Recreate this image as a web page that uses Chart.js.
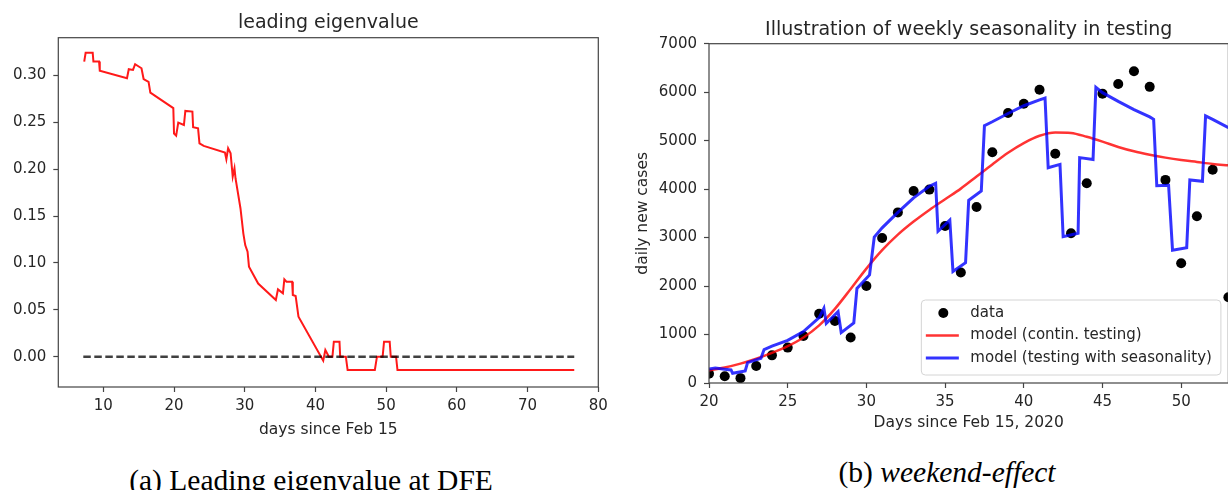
<!DOCTYPE html>
<html lang="en">
<head>
<meta charset="UTF-8" />
<meta name="viewport" content="width=device-width, initial-scale=1.0" />
<title>Leading eigenvalue / weekend effect</title>
<script src="https://cdn.jsdelivr.net/npm/chart.js@4.4.1/dist/chart.umd.min.js"></script>
<style>
  html, body { margin: 0; padding: 0; background: #fff; overflow: hidden; }
  #page { position: relative; width: 1228px; height: 490px; overflow: hidden; }
  canvas { position: absolute; top: 0; }
  #eigChart { left: 0; }
  #caseChart { left: 620px; }
  .caption {
    position: absolute; transform: translateX(-50%); white-space: nowrap;
    font-family: "Liberation Serif", serif; font-size: 29.5px; line-height: 30px; color: #000;
  }
</style>
</head>
<body>
<div id="page">
  <canvas id="eigChart" width="614" height="439"></canvas>
  <canvas id="caseChart" width="620" height="432"></canvas>
  <div class="caption" style="left:311px; top:465px;">(a) Leading eigenvalue at DFE</div>
  <div class="caption" style="left:947px; top:457px;">(b) <i>weekend-effect</i></div>
</div>
<script>
// (a) leading eigenvalue at the disease free equilibrium
const eigDays = [7.3, 7.5, 8.5, 8.6, 9.4, 9.5, 13.35, 13.6, 14.2, 14.5, 15.4, 15.7, 16.4, 16.65,
  19.9, 20.0, 20.3, 20.6, 21.4, 21.6, 22.6, 22.7, 23.4, 23.6, 24.2, 27.2, 27.4, 27.65, 28.0,
  28.3, 28.55, 28.7, 29.4, 29.8, 30.07, 30.4, 30.6, 31.9, 34.4, 34.7, 35.4, 35.6, 35.9, 36.7,
  36.8, 37.2, 37.6, 41.1, 41.4, 41.9, 42.4, 42.6, 43.4, 43.5, 44.3, 44.55, 48.4, 48.7, 49.5,
  49.7, 50.5, 50.65, 51.4, 51.6, 76.6];
const eigValues = [0.3146, 0.324, 0.324, 0.3146, 0.3146, 0.305, 0.297, 0.3065, 0.3057, 0.3118,
  0.3075, 0.296, 0.293, 0.2815, 0.265, 0.238, 0.2357, 0.2496, 0.247, 0.262, 0.2613, 0.2446,
  0.2435, 0.2275, 0.2247, 0.2176, 0.2105, 0.2222, 0.2168, 0.192, 0.201, 0.190, 0.158, 0.1315,
  0.119, 0.112, 0.096, 0.078, 0.0604, 0.0718, 0.0675, 0.0825, 0.080, 0.080, 0.0658, 0.0647,
  0.0427, -0.0043, 0.0071, 0.0, 0.0, 0.016, 0.016, 0.0, 0.0, -0.0142, -0.0142, 0.0, 0.0,
  0.016, 0.016, 0.0, 0.0, -0.0142, -0.0142];
const zeroDays = [7.17, 76.6];
const zeroLevel = [0, 0];
const eigXTicks = [10, 20, 30, 40, 50, 60, 70, 80];
const eigYTicks = [0, 0.05, 0.10, 0.15, 0.20, 0.25, 0.30];

// (b) daily new cases, continuous testing vs weekly testing pattern
const caseDays = [20, 21, 22, 23, 24, 25, 26, 27, 28, 29, 30, 31, 32, 33, 34, 35, 36, 37, 38,
  39, 40, 41, 42, 43, 44, 45, 46, 47, 48, 49, 50, 51, 52, 53];
const caseCounts = [190, 140, 100, 350, 570, 730, 970, 1430, 1280, 940, 2000, 2990, 3520, 3960,
  3990, 3240, 2280, 3630, 4760, 5570, 5760, 6050, 4730, 3090, 4120, 5970, 6170, 6430, 6110,
  4190, 2470, 3440, 4400, 1770];
const contCases = [260, 320, 400, 500, 620, 760, 940, 1190, 1530, 1940, 2360, 2740, 3060, 3330,
  3570, 3790, 4010, 4260, 4510, 4750, 4950, 5100, 5170, 5160, 5080, 4980, 4870, 4780, 4710,
  4650, 4600, 4560, 4520, 4490];
const seasDays = [20.0, 20.4, 21.0, 21.4, 21.5, 22.3, 22.45, 23.3, 23.5, 24, 25, 26, 27, 27.3,
  27.45, 28.2, 28.4, 29.2, 29.4, 30.2, 30.5, 31, 32, 33, 34, 34.4, 34.55, 35.3, 35.5, 36.3,
  36.5, 37.3, 37.5, 38, 39, 40, 41, 41.35, 41.55, 42.3, 42.5, 43.45, 43.55, 44.4, 44.58, 45,
  46, 47, 48, 48.25, 48.45, 49.2, 49.45, 50.35, 50.55, 51.35, 51.55, 52, 53];
const seasCases = [290, 310, 285, 270, 200, 250, 420, 510, 690, 760, 880, 1060, 1350, 1540,
  1230, 1470, 1040, 1240, 1950, 2230, 3010, 3200, 3520, 3820, 4060, 4120, 3130, 3360, 2300,
  2480, 3770, 3960, 5310, 5390, 5560, 5720, 5840, 5880, 4440, 4510, 3020, 3090, 4650, 4610,
  6100, 5990, 5810, 5640, 5490, 5440, 4070, 4080, 2740, 2790, 4190, 4160, 5510, 5440, 5270];
const caseXTicks = [20, 25, 30, 35, 40, 45, 50];
const caseYTicks = [0, 1000, 2000, 3000, 4000, 5000, 6000, 7000];

Chart.defaults.font.family = '"DejaVu Sans", sans-serif';
Chart.defaults.font.size = 15;
Chart.defaults.color = '#262626';

const pts = (xs, ys) => xs.map((x, i) => ({ x: x, y: ys[i] }));

// box around the axes, all four sides
const frame = {
  id: 'frame',
  afterDraw(chart) {
    const { ctx, chartArea: a } = chart;
    ctx.save();
    ctx.strokeStyle = '#444';
    ctx.lineWidth = 1.2;
    ctx.strokeRect(a.left, a.top, a.right - a.left, a.bottom - a.top);
    ctx.restore();
  }
};

// title centred over the plotting area
const axesTitle = {
  id: 'axesTitle',
  afterDraw(chart, args, opts) {
    const { ctx, chartArea: a } = chart;
    ctx.save();
    ctx.font = '19px "DejaVu Sans"';
    ctx.fillStyle = '#262626';
    ctx.textAlign = 'center';
    ctx.textBaseline = 'alphabetic';
    ctx.fillText(opts.text, (a.left + a.right) / 2, a.top - opts.gap);
    ctx.restore();
  }
};

// legend box in the lower right corner of the axes
const boxLegend = {
  id: 'boxLegend',
  afterDraw(chart, args, opts) {
    if (!opts.show) return;
    const { ctx, chartArea: a } = chart;
    const sets = chart.data.datasets;
    ctx.save();
    ctx.font = '15px "DejaVu Sans"';
    const textW = Math.max(...sets.map(d => ctx.measureText(d.label).width));
    const w = 49 + textW + 9, h = 75, r = 4;
    const x0 = a.right - 7.5 - w, y0 = a.bottom - 8 - h;
    ctx.beginPath();
    ctx.moveTo(x0 + r, y0);
    ctx.arcTo(x0 + w, y0, x0 + w, y0 + h, r);
    ctx.arcTo(x0 + w, y0 + h, x0, y0 + h, r);
    ctx.arcTo(x0, y0 + h, x0, y0, r);
    ctx.arcTo(x0, y0, x0 + w, y0, r);
    ctx.closePath();
    ctx.fillStyle = 'rgba(255,255,255,0.8)';
    ctx.fill();
    ctx.strokeStyle = '#d4d4d4';
    ctx.lineWidth = 1;
    ctx.stroke();
    sets.forEach((d, i) => {
      const y = y0 + 13 + i * 22.5;
      if (d.showLine === false) {
        ctx.beginPath();
        ctx.arc(x0 + 22, y, d.pointRadius, 0, Math.PI * 2);
        ctx.fillStyle = d.pointBackgroundColor;
        ctx.fill();
      } else {
        ctx.beginPath();
        ctx.moveTo(x0 + 4.5, y);
        ctx.lineTo(x0 + 37.5, y);
        ctx.strokeStyle = d.borderColor;
        ctx.lineWidth = d.borderWidth;
        ctx.stroke();
      }
      ctx.fillStyle = '#262626';
      ctx.textAlign = 'left';
      ctx.textBaseline = 'middle';
      ctx.fillText(d.label, x0 + 49, y);
    });
    ctx.restore();
  }
};

function axisOpts(min, max, tickList, fmt, boxSize, vertical, title, titlePad) {
  return {
    type: 'linear',
    min: min,
    max: max,
    afterBuildTicks: s => { s.ticks = tickList.map(v => ({ value: v })); },
    afterFit: s => { if (vertical) s.width = boxSize; else s.height = boxSize; },
    grid: { drawOnChartArea: false, drawTicks: true, tickLength: 5, tickWidth: 1.2, tickColor: '#444' },
    border: { display: false },
    ticks: { padding: vertical ? 7 : 5, autoSkip: false, maxRotation: 0, callback: fmt },
    title: {
      display: !!title,
      text: title,
      font: { size: 15.5 },
      padding: { top: titlePad, bottom: 0 }
    }
  };
}

new Chart(document.getElementById('eigChart'), {
  type: 'line',
  data: {
    datasets: [
      { label: 'zero', data: pts(zeroDays, zeroLevel), borderColor: 'rgba(0,0,0,0.75)',
        borderWidth: 2.5, borderDash: [7.5, 3.5], pointRadius: 0, order: 1 },
      { label: 'leading eigenvalue', data: pts(eigDays, eigValues), borderColor: 'rgba(255,0,0,0.9)',
        borderWidth: 2, pointRadius: 0, tension: 0, order: 2 }
    ]
  },
  options: {
    responsive: false,
    animation: false,
    events: [],
    layout: { padding: { top: 37.7, right: 15.7, bottom: 0, left: 0 } },
    scales: {
      x: axisOpts(3.635, 80, eigXTicks, v => String(v), 52, false, 'days since Feb 15', 0),
      y: axisOpts(-0.0323, 0.3401, eigYTicks, v => v.toFixed(2), 58.3, true, '', 0)
    },
    plugins: {
      legend: { display: false },
      tooltip: { enabled: false },
      axesTitle: { text: 'leading eigenvalue', gap: 10.2 },
      boxLegend: { show: false }
    }
  },
  plugins: [frame, axesTitle, boxLegend]
});

new Chart(document.getElementById('caseChart'), {
  type: 'line',
  data: {
    datasets: [
      { label: 'data', data: pts(caseDays, caseCounts), showLine: false, pointRadius: 5,
        pointBackgroundColor: '#000', pointBorderWidth: 0, clip: 0, order: 3 },
      { label: 'model (contin. testing)', data: pts(caseDays, contCases), borderColor: 'rgba(255,0,0,0.8)',
        borderWidth: 2.5, pointRadius: 0, cubicInterpolationMode: 'monotone', order: 2 },
      { label: 'model (testing with seasonality)', data: pts(seasDays, seasCases),
        borderColor: 'rgba(0,0,255,0.8)', borderWidth: 3, pointRadius: 0, tension: 0, order: 1 }
    ]
  },
  options: {
    responsive: false,
    animation: false,
    events: [],
    layout: { padding: { top: 43.7, right: 11.6, bottom: 0, left: 0 } },
    scales: {
      x: axisOpts(20, 53, caseXTicks, v => String(v), 49, false, 'Days since Feb 15, 2020', 0),
      y: axisOpts(0, 7000, caseYTicks, v => String(v), 89, true, 'daily new cases', 14)
    },
    plugins: {
      legend: { display: false },
      tooltip: { enabled: false },
      axesTitle: { text: 'Illustration of weekly seasonality in testing', gap: 8.7 },
      boxLegend: { show: true }
    }
  },
  plugins: [frame, axesTitle, boxLegend]
});
</script>
</body>
</html>
